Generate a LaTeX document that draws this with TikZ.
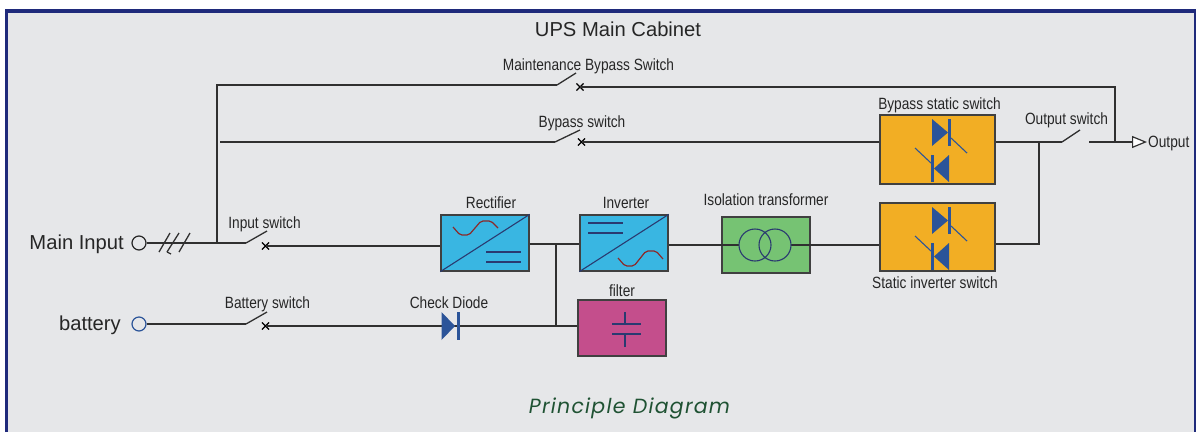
\documentclass[tikz,border=0pt]{standalone}
\usepackage{fontspec}
\setmainfont{Liberation Sans}
\newfontfamily\labelfont[FakeStretch=0.84]{Liberation Sans}
\newfontfamily\captionfont[LetterSpace=6]{Poppins}
\usetikzlibrary{arrows.meta,shapes.misc}

\definecolor{panelgray}{HTML}{E6E7E9}
\definecolor{framenavy}{HTML}{1F2A7B}
\definecolor{boxblue}{HTML}{39B6E2}
\definecolor{boxgreen}{HTML}{76C373}
\definecolor{boxorange}{HTML}{F2AE24}
\definecolor{boxpink}{HTML}{C44E8C}
\definecolor{diodeblue}{HTML}{2B5499}
\definecolor{symbolnavy}{HTML}{2A3A70}
\definecolor{sinered}{HTML}{8B2A2A}
\definecolor{captiongreen}{HTML}{1F5233}
\definecolor{wiregray}{HTML}{303030}

\tikzset{
  wire/.style={draw=wiregray,line width=1.2pt},
  blade/.style={draw=wiregray,line width=1.3pt},
  unitbox/.style={draw=black!75,line width=1.2pt,inner sep=0pt,minimum width=#1},
  unitbox/.default=88pt,
  contact/.style={cross out,draw=black,line width=1.1pt,minimum size=6pt,inner sep=0pt},
  terminal/.style={circle,draw,line width=1.2pt,fill=none,minimum size=14pt,inner sep=0pt},
  tag/.style={font=\labelfont\fontsize{16.3}{16}\selectfont,text=black!85,inner sep=0pt,anchor=base},
  bigtag/.style={font=\fontsize{20.2}{20}\selectfont,text=black!85,inner sep=0pt,anchor=base},
  symbol/.style={draw=symbolnavy,line width=1.1pt},
}

\begin{document}
\begin{tikzpicture}[x=1pt,y=-1pt]
\useasboundingbox (0,0) rectangle (1196,432);
	% panel and frame
	\fill[panelgray] (6,11) rectangle (1196,432);
	\draw[framenavy,line width=3.4pt] (6.5,432) -- (6.5,10.8) -- (1196,10.8);
	\draw[framenavy,line width=1.6pt] (1195.2,10.8) -- (1195.2,432);
	% titles
	\node[bigtag] (title) at (618,36) {UPS Main Cabinet};
	\node[font=\captionfont\itshape\fontsize{20.5}{20}\selectfont,text=captiongreen,inner sep=0pt,anchor=base] (caption) at (629.5,413) {Principle Diagram};

	% units
	\node[unitbox,minimum height=56pt,fill=boxblue] (rectifier) at (485,243) {};
	\node[unitbox,minimum height=56pt,fill=boxblue] (inverter) at (624,243) {};
	\node[unitbox,minimum height=56pt,fill=boxpink] (filter) at (622,328) {};
	\node[unitbox,minimum height=56pt,fill=boxgreen] (transformer) at (766,245) {};
	\node[unitbox=115pt,minimum height=69pt,fill=boxorange] (bypassstatic) at (937.5,149.5) {};
	\node[unitbox=115pt,minimum height=68pt,fill=boxorange] (invstatic) at (937.5,237) {};

	% terminals
	\node[terminal,draw=black!85] (mainin) at (139,243) {};
	\node[terminal,draw=diodeblue] (batin) at (139,324) {};
	\node[bigtag,anchor=base east] (mainlabel) at (124,249.5) {Main Input};
	\node[bigtag,anchor=base east] (batlabel) at (121,330) {battery};
	\node[tag,anchor=base west] (outlabel) at (1148,147) {Output};

	% switch points
	\coordinate (inputleft) at (246,243);
	\coordinate (inputtip) at (267,231);
	\node[contact] (inputx) at (265.5,246) {};
	\coordinate (batleft) at (246,324);
	\coordinate (battip) at (267,312);
	\node[contact] (batx) at (265.5,326) {};
	\coordinate (maintleft) at (557,85);
	\coordinate (mainttip) at (576,73);
	\node[contact] (maintx) at (580,87) {};
	\coordinate (byleft) at (555,142);
	\coordinate (bytip) at (580,130);
	\node[contact] (byx) at (581.5,142) {};
	\coordinate (outleft) at (1062,142);
	\coordinate (outtip) at (1080,130);
	\coordinate (outright) at (1089,142);
	\coordinate (outend) at (1147,142);
	% bus corners
	\coordinate (inputtee) at (217,243);
	\coordinate (maintcorner) at (217,85);
	\coordinate (bystart) at (220,142);
	\coordinate (outcorner) at (1115,87);
	\coordinate (outtee) at (1115,142);
	\coordinate (mergetee) at (1039,142);
	\coordinate (mergecorner) at (1039,244);
	\coordinate (dctop) at (556,244);
	\coordinate (dcbottom) at (556,326);

	% input wires
	\draw[wire] (mainin) -- (inputleft);
	\draw[blade] (inputleft) -- (inputtip);
	\draw[wire] (inputx.center) -- (inputx.center -| rectifier.west);
	\draw[wire] (batin) -- (batleft);
	\draw[blade] (batleft) -- (battip);
	\draw[wire] (batx.center) -- (batx.center -| filter.west);
	% three phase slashes
	\draw[blade] (159,252) -- (170,233) (167,252) -- (179,233) (179,252) -- (190,233) (167,252) -- (171,254);
	% bypass wires
	\draw[wire] (inputtee) -- (maintcorner) -- (maintleft);
	\draw[blade] (maintleft) -- (mainttip);
	\draw[wire] (maintx.center) -- (outcorner) -- (outtee);
	\draw[wire] (bystart) -- (byleft);
	\draw[blade] (byleft) -- (bytip);
	\draw[wire] (byx.center) -- (byx.center -| bypassstatic.west);
	\draw[wire] (bypassstatic.east |- outleft) -- (outleft);
	\draw[blade] (outleft) -- (outtip);
	\draw[wire,-{Triangle[fill=white,length=15pt,width=12pt]}] (outright) -- (outend);
	\draw[wire] (mergetee) -- (mergecorner) -- (mergecorner -| invstatic.east);
	% dc link
	\draw[wire] (dctop -| rectifier.east) -- (dctop -| inverter.west);
	\draw[wire] (dctop) -- (dcbottom);
	\draw[wire] (inverter.east |- transformer) -- (transformer.west);
	\draw[wire] (transformer.east) -- (transformer.east -| invstatic.west);
	\draw[wire] (transformer.west) -- (739,245) (791,245) -- (transformer.east);

	% converter symbols
	\draw[symbol] (rectifier.south west) -- (rectifier.north east);
	\draw[symbol] (inverter.south west) -- (inverter.north east);
	\draw[symbol] (486,252) -- (521,252) (486,262) -- (521,262);
	\draw[symbol] (588,223) -- (623,223) (588,233) -- (623,233);
	\draw[sinered,line width=1.2pt,rounded corners=2pt] (453,227) -- (460,235) -- (469,235) -- (481,221) -- (491,221) -- (498,228);
	\draw[sinered,line width=1.2pt,rounded corners=2pt] (618,258) -- (625,266) -- (634,266) -- (646,251) -- (656,251) -- (663,259);
	% capacitor
	\draw[symbol] (612,324) -- (641,324) (612,334) -- (641,334);
	\draw[symbol] (625,312) -- (625,324) (625,334) -- (625,347);
	% transformer windings
	\draw[symbol] (755,245) circle (16) (775,245) circle (16);
	% check diode
	\fill[diodeblue] (441.5,312) -- (455,326) -- (441.5,340) -- cycle;
	\fill[diodeblue] (457,312) rectangle (460,340);
	% thyristors
	\foreach \swy in {0,88}{
		\fill[diodeblue] (932,119+\swy) -- (948,132.5+\swy) -- (932,146+\swy) -- cycle;
		\fill[diodeblue] (948,119+\swy) rectangle (951,146+\swy);
		\draw[diodeblue,line width=1.1pt] (951,138+\swy) -- (967,153+\swy);
		\fill[diodeblue] (949,155+\swy) -- (934,168.5+\swy) -- (949,182+\swy) -- cycle;
		\fill[diodeblue] (931,155+\swy) rectangle (934,182+\swy);
		\draw[diodeblue,line width=1.1pt] (915,148+\swy) -- (931,163+\swy);
	}

	% labels
	\node[tag] (inputtag) at (264.5,228) {Input switch};
	\node[tag] (battag) at (267.5,308) {Battery switch};
	\node[tag] (maintag) at (588.5,70) {Maintenance Bypass Switch};
	\node[tag] (bytag) at (582,127) {Bypass switch};
	\node[tag] (outtag) at (1066.5,124) {Output switch};
	\node[tag] (rectag) at (491,208) {Rectifier};
	\node[tag] (invtag) at (626,208) {Inverter};
	\node[tag] (filtertag) at (622,296) {filter};
	\node[tag] (diodetag) at (449,308) {Check Diode};
	\node[tag] (isotag) at (766,205) {Isolation transformer};
	\node[tag] (bypasstag) at (939.5,109) {Bypass static switch};
	\node[tag] (invtag2) at (935,288) {Static inverter switch};
\end{tikzpicture}
\end{document}
